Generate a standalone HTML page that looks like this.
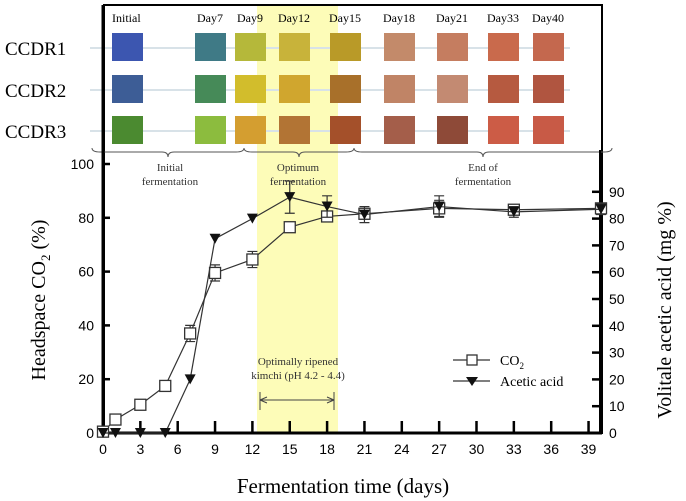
<!DOCTYPE html>
<html><head><meta charset="utf-8"><style>
body{margin:0;background:#fff}
svg{display:block;font-family:"Liberation Serif",serif}
</style></head><body>
<svg id="chart" width="686" height="501" viewBox="0 0 686 501" xmlns="http://www.w3.org/2000/svg">
<rect x="257" y="5" width="81" height="428" fill="#fdfcb8"/>
<g id="swatches"></g>
<g id="plot"></g>
</svg>
<script>
const days = [0,1,3,5,7,9,12,15,18,21,27,33,40];
const co2 = [0.5,5,10.5,17.5,37,59.5,64.5,76.5,80.5,81.5,83.5,83,83.5];
const co2Err = [0,0,0,0,3,3,3,0,0,2,3,1.5,0];
const acetic = [0,0,0,0,20,72.5,80,88,84.5,81.5,84.5,82.5,83.5];
const aceticErr = [0,0,0,0,0,0,0,6,4,3,4,2,2];
const xTicks = [0,3,6,9,12,15,18,21,24,27,30,33,36,39];
const yLeftTicks = [0,20,40,60,80,100];
const yRightTicks = [0,10,20,30,40,50,60,70,80,90];
const swatchDays = ["Initial","Day7","Day9","Day12","Day15","Day18","Day21","Day33","Day40"];
const rows = ["CCDR1","CCDR2","CCDR3"];
const swatchColors = [
 ["#3c56b0","#3f7a86","#b5b83a","#c8b33a","#b99a28","#c38a6a","#c57d60","#c96a4c","#c4684e"],
 ["#3d5d96","#468a58","#d2bd2c","#d0a62e","#a8702a","#c08466","#c38a72","#b65a40","#b05540"],
 ["#4b8a30","#8cbc3e","#d49e30","#b27434","#a4502a","#a45e4a","#8e4a38","#cc5c46","#c85a46"]];

const NS="http://www.w3.org/2000/svg";
const svg=document.getElementById('chart');
const plot=document.getElementById('plot');
const sw=document.getElementById('swatches');
function mk(tag,attrs,parent,text){const e=document.createElementNS(NS,tag);for(const k in attrs)e.setAttribute(k,attrs[k]);if(text!==undefined)e.textContent=text;(parent||plot).appendChild(e);return e;}
const X=d=>103+d*12.45;
const YL=v=>433-v*2.69;
const YR=v=>433-v*2.68;

// top frame
mk('rect',{x:104,y:5,width:498,height:428,fill:'none',stroke:'#000','stroke-width':2},plot);
const colX=[127,210,250,294,345,399,452,503,548];
const rowY=[48,90,131];
rows.forEach((r,ri)=>{
 mk('line',{x1:90,x2:570,y1:rowY[ri],y2:rowY[ri],stroke:'#d8e2e8','stroke-width':2},sw);
 const t=mk('text',{x:5,y:rowY[ri]+7,'font-size':19},sw,r);
 
 
 swatchColors[ri].forEach((c,ci)=>{
  const s=mk('rect',{x:colX[ci]-15,y:rowY[ri]-15,width:31,height:28,fill:c},sw);
  
  
 });
});
swatchDays.forEach((d,ci)=>{
 const t=mk('text',{x:colX[ci]+(ci==0?-15:0),y:22,'font-size':12,'text-anchor':ci==0?'start':'middle'},sw,d);
 
 
});
// braces
function brace(x1,x2,y){const m=(x1+x2)/2;return `M${x1},${y-4} Q${x1},${y} ${x1+8},${y} L${m-6},${y} Q${m},${y} ${m},${y+5} Q${m},${y} ${m+6},${y} L${x2-8},${y} Q${x2},${y} ${x2},${y-4}`;}
[[92,244],[244,354],[354,612]].forEach(b=>{const p=mk('path',{d:brace(b[0],b[1],152),fill:'none',stroke:'#555','stroke-width':1},plot);});
[[170,'Initial','fermentation'],[298,'Optimum','fermentation'],[483,'End of','fermentation']].forEach(a=>{
 const t=mk('text',{x:a[0],y:171,'font-size':11,'text-anchor':'middle',fill:'#333'},plot,a[1]);
 mk('text',{x:a[0],y:185,'font-size':11,'text-anchor':'middle',fill:'#333'},plot,a[2]);
});

// axes
mk('line',{x1:103,x2:103,y1:5,y2:434,stroke:'#000','stroke-width':3},plot);
mk('line',{x1:101,x2:602,y1:433,y2:433,stroke:'#000','stroke-width':3},plot);
mk('line',{x1:600,x2:600,y1:150,y2:434,stroke:'#000','stroke-width':2},plot);
xTicks.forEach(t=>{mk('line',{x1:X(t),x2:X(t),y1:433,y2:421,stroke:'#000','stroke-width':2.5},plot);
 const l=mk('text',{x:X(t),y:454,'font-size':14,'text-anchor':'middle','font-family':'Liberation Sans'},plot,t);});
yLeftTicks.forEach(t=>{mk('line',{x1:103,x2:110,y1:YL(t),y2:YL(t),stroke:'#000','stroke-width':2.5},plot);
 const l=mk('text',{x:94,y:YL(t)+5,'font-size':14,'text-anchor':'end','font-family':'Liberation Sans'},plot,t);});
yRightTicks.forEach(t=>{mk('line',{x1:592,x2:600,y1:YR(t),y2:YR(t),stroke:'#000','stroke-width':2.5},plot);
 const l=mk('text',{x:609,y:YR(t)+5,'font-size':14,'font-family':'Liberation Sans'},plot,t);});

const xt=mk('text',{x:343,y:493,'font-size':21,'text-anchor':'middle'},plot,'Fermentation time (days)');
const yt=mk('text',{x:0,y:0,'font-size':20,'text-anchor':'middle',transform:'translate(45,300) rotate(-90)'},plot);
yt.innerHTML='Headspace CO<tspan font-size="13" dy="5">2</tspan><tspan dy="-5"> (%)</tspan>';
const yr=mk('text',{x:0,y:0,'font-size':20,'text-anchor':'middle',transform:'translate(671,310) rotate(-90)'},plot,'Volitale acetic acid (mg %)');

// series
function series(vals,errs,Y,name,marker){
 const pts=days.map((d,i)=>X(d)+','+Y(vals[i])).join(' ');
 const pl=mk('polyline',{points:pts,fill:'none',stroke:'#333','stroke-width':1.2},plot);
 
 days.forEach((d,i)=>{const x=X(d),y=Y(vals[i]);
  if(errs[i]>0){const y1=Y(vals[i]+errs[i]),y2=Y(vals[i]-errs[i]);
   mk('path',{d:`M${x},${y1}V${y2}M${x-5},${y1}H${x+5}M${x-5},${y2}H${x+5}`,stroke:'#333','stroke-width':1.2,fill:'none'},plot);}
  let m;
  if(marker=='sq') m=mk('rect',{x:x-5.5,y:y-5.5,width:11,height:11,fill:'#fff',stroke:'#333','stroke-width':1.3},plot);
  else m=mk('path',{d:`M${x-5.5},${y-5}L${x+5.5},${y-5}L${x},${y+5}Z`,fill:'#111'},plot);
  
 });
}
series(co2,co2Err,YL,'co2','sq');
series(acetic,aceticErr,YR,'acetic-acid','tri');

// annotation
const a1=mk('text',{x:298,y:365,'font-size':11,'text-anchor':'middle',fill:'#333'},plot,'Optimally ripened');
mk('text',{x:298,y:379,'font-size':11,'text-anchor':'middle',fill:'#333'},plot,'kimchi (pH 4.2 - 4.4)');
const ar=mk('path',{d:'M260,392V410M334,392V410M260,400H334M260,400l7,-3M260,400l7,3M334,400l-7,-3M334,400l-7,3',stroke:'#444','stroke-width':1,fill:'none'},plot);

// legend
const lg=mk('g',{},plot);
mk('line',{x1:453,x2:490,y1:360,y2:360,stroke:'#333','stroke-width':1.2},lg);
mk('rect',{x:467,y:355,width:10,height:10,fill:'#fff',stroke:'#333','stroke-width':1.3},lg);
const l1=mk('text',{x:500,y:365,'font-size':14},lg);l1.innerHTML='CO<tspan font-size="9" dy="4">2</tspan>';

mk('line',{x1:453,x2:490,y1:381,y2:381,stroke:'#333','stroke-width':1.2},lg);
mk('path',{d:'M466,377L478,377L472,386Z',fill:'#111'},lg);
const l2=mk('text',{x:500,y:386,'font-size':14},lg,'Acetic acid');

</script>
</body></html>
